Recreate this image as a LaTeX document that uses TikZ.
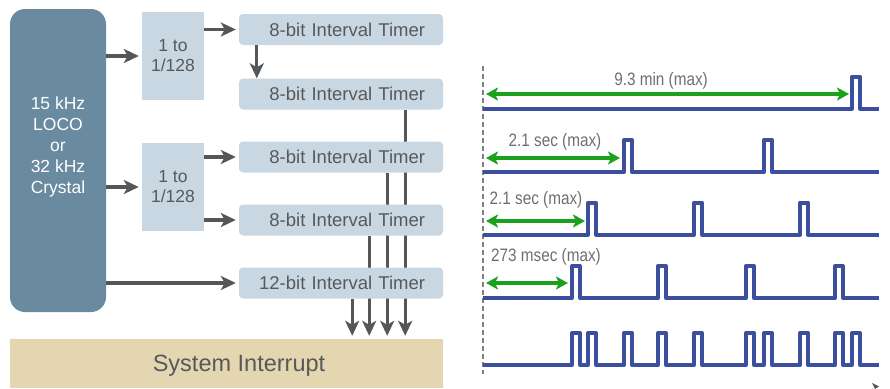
\documentclass[tikz,border=0pt]{standalone}
\usepackage{fontspec}
\setmainfont{Liberation Sans}
\newfontfamily\condfont[FakeStretch=0.85]{Liberation Sans}
\usetikzlibrary{arrows.meta,backgrounds}
\definecolor{locoblue}{HTML}{6A8AA0}
\definecolor{boxblue}{HTML}{C9D7E2}
\definecolor{sand}{HTML}{E4D6B0}
\definecolor{textgray}{HTML}{58595B}
\definecolor{linegray}{HTML}{555658}
\definecolor{waveblue}{HTML}{3C4F9F}
\definecolor{spangreen}{HTML}{1BA11B}
\definecolor{labelgray}{HTML}{6D6E71}
\definecolor{dashgray}{HTML}{808080}
\tikzset{
  loco/.style={fill=locoblue, rounded corners=15pt, minimum width=96pt, minimum height=303pt},
  divbox/.style={fill=boxblue, minimum width=62pt, minimum height=88pt, align=center,
    text=textgray, font=\fontsize{17.5}{20}\selectfont},
  timer/.style={fill=boxblue, rounded corners=4pt, minimum width=204pt, minimum height=31pt,
    text width=168pt, align=right, text=textgray, font=\fontsize{18.5}{20}\selectfont},
  intbox/.style={fill=sand, minimum width=433pt, minimum height=49pt},
  conn/.style={draw=linegray, line width=3.2pt, -{Stealth[length=15pt,width=14pt,inset=4pt]}},
  wave/.style={draw=waveblue, line width=4pt, line join=round},
  spanarrow/.style={draw=spangreen, line width=3.2pt,
    {Stealth[length=12pt,width=13pt,inset=3pt]}-{Stealth[length=12pt,width=13pt,inset=3pt]}},
  wlabel/.style={text=labelgray, font=\condfont\fontsize{18}{20}\selectfont, anchor=base, inner sep=0pt},
}
\begin{document}
\begin{tikzpicture}[x=1pt,y=-1pt]
\useasboundingbox (0,0) rectangle (890,388);
% clock source, dividers and timers
\node[loco, label={[text=white, align=center, font=\fontsize{17.5}{21}\selectfont, yshift=14pt]center:15 kHz\\LOCO\\or\\32 kHz\\Crystal}] (loco) at (58,160.5) {};
\node[divbox] (div1) at (173,56) {1 to\\1/128};
\node[divbox] (div2) at (173,187) {1 to\\1/128};
\node[timer] (t1) at (341,29.5) {8-bit Interval Timer};
\node[timer] (t2) at (341,94) {8-bit Interval Timer};
\node[timer] (t3) at (341,157) {8-bit Interval Timer};
\node[timer] (t4) at (341,220) {8-bit Interval Timer};
\node[timer] (t5) at (341,283) {12-bit Interval Timer};
\node[intbox, label={[text=textgray, font=\fontsize{23.5}{26}\selectfont, xshift=12.5pt, yshift=-2.5pt]center:System Interrupt}] (sysint) at (226.5,363.5) {};
\draw[conn, shorten >=3pt] (loco.east |- div1) -- (div1.west);
\draw[conn, shorten >=3pt] (loco.east |- div2) -- (div2.west);
\draw[conn, shorten >=3pt] (loco.east |- t5) -- (t5.west);
\draw[conn, shorten >=3pt] (div1.east |- t1) -- (t1.west);
\draw[conn, shorten >=3pt] (div2.east |- t3) -- (t3.west);
\draw[conn, shorten >=3pt] (div2.east |- t4) -- (t4.west);
\draw[conn] ([xshift=18pt]t1.south west) -- ([xshift=18pt]t2.north west);
\begin{scope}[on background layer]
\foreach \t/\dx in {t2/38,t3/56,t4/74,t5/91}
  \draw[conn, shorten >=3pt] ([xshift=-\dx]\t.south east) -- ([xshift=-\dx]\t.south east |- sysint.north);
\end{scope}
% timing chart
\draw[dashgray, line width=1.2pt, dash pattern=on 5pt off 3pt] (483,66) -- (483,374);
\foreach \y/\pulses in {108.5/{852}, 172/{624,764}, 234.5/{588,694,800}, 298/{572,658,746,835},
    365/{572,588,624,658,694,746,764,800,835,852}}
  \draw[wave] (483,\y) foreach \p in \pulses {-- (\p,\y) -- (\p,\y-32) -- (\p+8,\y-32) -- (\p+8,\y)} -- (879,\y);
\draw[spanarrow] (486,94) -- (849,94);
\draw[spanarrow] (486,158) -- (620,158);
\draw[spanarrow] (486,221) -- (585,221);
\draw[spanarrow] (486,283) -- (568,283);
\node[wlabel] (lab1) at (661,85) {9.3 min (max)};
\node[wlabel] (lab2) at (555,146.5) {2.1 sec (max)};
\node[wlabel] (lab3) at (536,204) {2.1 sec (max)};
\node[wlabel] (lab4) at (546,261) {273 msec (max)};
\fill[linegray] (872,383) -- (879,386.5) -- (875,389) -- cycle;
\end{tikzpicture}
\end{document}
